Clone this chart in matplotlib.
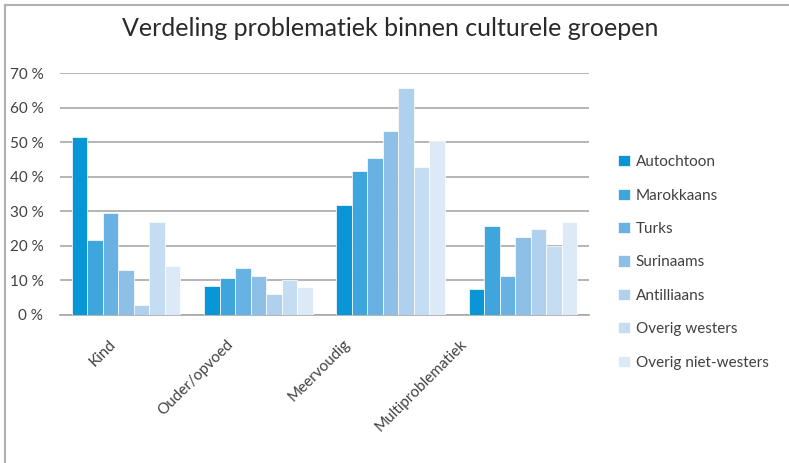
import matplotlib
matplotlib.use("Agg")
import matplotlib.pyplot as plt
import numpy as np
from matplotlib.lines import Line2D

plt.rcParams['font.family'] = ['Lato', 'DejaVu Sans']

title = "Verdeling problematiek binnen culturele groepen"
categories = ["Kind", "Ouder/opvoed", "Meervoudig", "Multiproblematiek"]
series_names = ["Autochtoon", "Marokkaans", "Turks", "Surinaams",
                "Antilliaans", "Overig westers", "Overig niet-westers"]
autochtoon = [51.6, 8.5, 32.0, 7.6]
marokkaans = [21.8, 10.8, 41.6, 25.7]
turks = [29.5, 13.6, 45.5, 11.3]
surinaams = [12.9, 11.3, 53.3, 22.5]
antilliaans = [3.0, 6.2, 65.6, 24.9]
overig_westers = [26.9, 10.0, 43.0, 20.0]
overig_niet_westers = [14.3, 8.0, 50.5, 27.0]
yticks = [0, 10, 20, 30, 40, 50, 60, 70]
ytick_labels = ["0 %", "10 %", "20 %", "30 %", "40 %", "50 %", "60 %", "70 %"]

series = [autochtoon, marokkaans, turks, surinaams, antilliaans,
          overig_westers, overig_niet_westers]
colors = ["#0996d6", "#3ea6dd", "#67b2e2", "#8dbfe7", "#afd1ee", "#c4ddf2", "#dce9f6"]
text_color = "#404040"
grid_color = "#a8a8a8"

fig = plt.figure(figsize=(7.89, 4.63), dpi=100)
ax = fig.add_axes([60/789, 1-315/463, (589-60)/789, (315-73.3)/463])

x = np.arange(len(categories))
w = 0.117
for i, (vals, c, name) in enumerate(zip(series, colors, series_names)):
    ax.bar(x + (i - 3) * w, vals, width=w, color=c, edgecolor="white",
           linewidth=0.5, label=name, zorder=3)

ax.set_xlim(-0.5, 3.5)
ax.set_ylim(0, 70)
ax.set_yticks(yticks)
ax.set_yticklabels(ytick_labels, fontsize=11, color=text_color)
ax.yaxis.grid(True, color=grid_color, linewidth=1.2, zorder=0)
ax.set_axisbelow(True)
for s in ["left", "right", "top"]:
    ax.spines[s].set_visible(False)
ax.spines["bottom"].set_color(grid_color)
ax.spines["bottom"].set_linewidth(1.2)
ax.tick_params(axis="both", length=0)
ax.tick_params(axis="y", pad=12)

# tick labels placement (layout offsets)
label_pos = x * 0.885 - 0.13
ax.set_xticks(label_pos)
ax.set_xticklabels(categories, rotation=45, ha="right", va="top",
                   rotation_mode="anchor", fontsize=11, color=text_color)
ax.tick_params(axis="x", pad=16)

fig.text(390/789, 1-28/463, title, ha="center", va="center", fontsize=18,
         color="#2a2a2a")

handles, labels = ax.get_legend_handles_labels()
leg = fig.legend(handles, labels, loc="upper left",
                 bbox_to_anchor=(612/789, 1-149/463), frameon=False,
                 fontsize=11, handlelength=0.75, handleheight=0.75,
                 handletextpad=0.4, labelspacing=1.27, borderaxespad=0)
for t in leg.get_texts():
    t.set_color(text_color)

# frame lines
fig.add_artist(Line2D([4.5/789, 1], [1-4.5/463, 1-4.5/463], color="#b0b0b0",
                      linewidth=1.5, transform=fig.transFigure))
fig.add_artist(Line2D([4.5/789, 4.5/789], [0, 1-4.5/463], color="#b0b0b0",
                      linewidth=1.5, transform=fig.transFigure))

fig.savefig("out.png", dpi=100)
